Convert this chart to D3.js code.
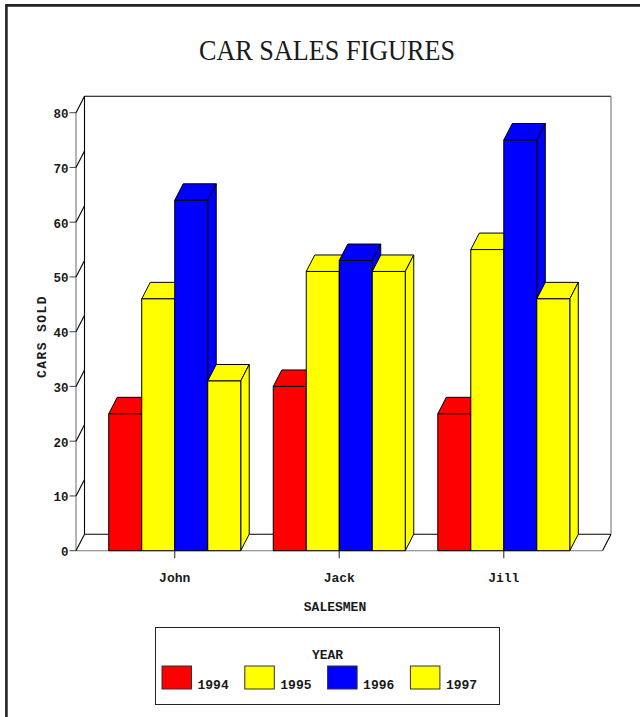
<!DOCTYPE html>
<html><head><meta charset="utf-8">
<script src="https://cdn.jsdelivr.net/npm/d3@7"></script>
<style>html,body{margin:0;padding:0;background:#fff}svg{display:block}</style>
</head><body><div id="c"></div>
<script>
const title = "CAR SALES FIGURES";
const salesmen = ["John", "Jack", "Jill"];
const years = ["1994", "1995", "1996", "1997"];
const colors = ["#ff0000", "#ffff00", "#0000ff", "#ffff00"];
const sales1994 = [25, 30, 25];
const sales1995 = [46, 51, 55];
const sales1996 = [64, 53, 75];
const sales1997 = [31, 51, 46];
const yTicks = [0, 10, 20, 30, 40, 50, 60, 70, 80];
const series = [sales1994, sales1995, sales1996, sales1997];

const W = 640, H = 717;
const svg = d3.select("#c").append("svg").attr("width", W).attr("height", H);
const mono = "'Liberation Mono', monospace";
const ink = "#1a1a1a";

const x0 = 76, x1 = 602.5, y0 = 550.7, y80 = 112.7, dx = 8.5, dy = -16.5;
const y = d3.scaleLinear().domain([0, 80]).range([y0, y80]);
const xc = d3.scalePoint().domain(salesmen).range([x0, x1]).padding(0.6);
const xs = d3.scaleBand().domain(years).range([-66, 66]);

// page frame
svg.append("path").attr("d", "M6.4 717V5.4H640").attr("fill", "none").attr("stroke", "#222").attr("stroke-width", 2.6);

svg.append("text").attr("x", 327).attr("y", 60).attr("text-anchor", "middle")
  .attr("font-family", "'Liberation Serif', serif").attr("font-size", 29.5).attr("textLength", 256)
  .attr("lengthAdjust", "spacingAndGlyphs").attr("fill", ink).text(title);

// walls and floor
const g = svg.append("g").attr("fill", "none");
const line = (x1_, y1_, x2_, y2_, c) => g.append("line").attr("x1", x1_).attr("y1", y1_).attr("x2", x2_).attr("y2", y2_).attr("stroke", c).attr("stroke-width", 1.1);
line(x0 + dx, y(80) + dy, x1 + dx, y(80) + dy, "#000");
line(x0 + dx, y(80) + dy, x0 + dx, y0 + dy, "#000");
line(x0 + dx, y0 + dy, x1 + dx, y0 + dy, "#000");
line(x1 + dx, y(80) + dy, x1 + dx, y0 + dy, "#777");
line(x1, y0, x1 + dx, y0 + dy, "#000");
line(x0, y(80), x0, y0, "#777");
line(x0, y0, x1, y0, "#777");

// y axis ticks
yTicks.forEach(t => {
  line(x0 - 6.5, y(t), x0, y(t), "#555");
  line(x0, y(t), x0 + dx, y(t) + dy, "#000");
  svg.append("text").attr("x", x0 - 7.5).attr("y", y(t) + 5.5).attr("text-anchor", "end")
    .attr("font-family", mono).attr("font-weight", "bold").attr("font-size", 12.5).attr("fill", ink).text(t);
});

// bars
salesmen.forEach((s, i) => {
  years.forEach((yr, j) => {
    const v = series[j][i];
    const l = xc(s) + xs(yr), r = l + xs.bandwidth(), t = y(v), b = y0;
    const bar = svg.append("g").attr("stroke", "#000").attr("stroke-width", 1).attr("stroke-linejoin", "round").attr("fill", colors[j]);
    bar.append("path").attr("d", `M${l} ${t}L${l + dx} ${t + dy}H${r + dx}L${r} ${t}Z`);
    bar.append("path").attr("d", `M${r} ${t}L${r + dx} ${t + dy}V${b + dy}L${r} ${b}Z`);
    bar.append("rect").attr("x", l).attr("y", t).attr("width", r - l).attr("height", b - t);
  });
  line(xc(s), y0, xc(s), y0 + 7.5, "#333");
  svg.append("text").attr("x", xc(s)).attr("y", 581.5).attr("text-anchor", "middle")
    .attr("font-family", mono).attr("font-weight", "bold").attr("font-size", 13).attr("fill", ink).text(s);
});

// axis titles
svg.append("text").attr("x", 335).attr("y", 611).attr("text-anchor", "middle")
  .attr("font-family", mono).attr("font-weight", "bold").attr("font-size", 13).attr("fill", ink).text("SALESMEN");
svg.append("text").attr("transform", "translate(46,336.5) rotate(-90)").attr("text-anchor", "middle")
  .attr("font-family", mono).attr("font-weight", "bold").attr("font-size", 13).attr("letter-spacing", 1.4).attr("fill", ink).text("CARS SOLD");

// legend
const lg = svg.append("g");
lg.append("rect").attr("x", 155.5).attr("y", 627.5).attr("width", 344).attr("height", 77).attr("fill", "#fff").attr("stroke", "#222").attr("stroke-width", 1);
lg.append("text").attr("x", 327.5).attr("y", 659).attr("text-anchor", "middle")
  .attr("font-family", mono).attr("font-weight", "bold").attr("font-size", 13).attr("fill", ink).text("YEAR");
const lx = d3.scalePoint().domain(years).range([162, 410.4]);
years.forEach((yr, j) => {
  lg.append("rect").attr("x", lx(yr)).attr("y", 666).attr("width", 29.5).attr("height", 23).attr("fill", colors[j]).attr("stroke", "#333").attr("stroke-width", 1);
  lg.append("text").attr("x", lx(yr) + 35.5).attr("y", 689).attr("font-family", mono).attr("font-weight", "bold").attr("font-size", 13).attr("fill", ink).text(yr);
});
</script></body></html>
